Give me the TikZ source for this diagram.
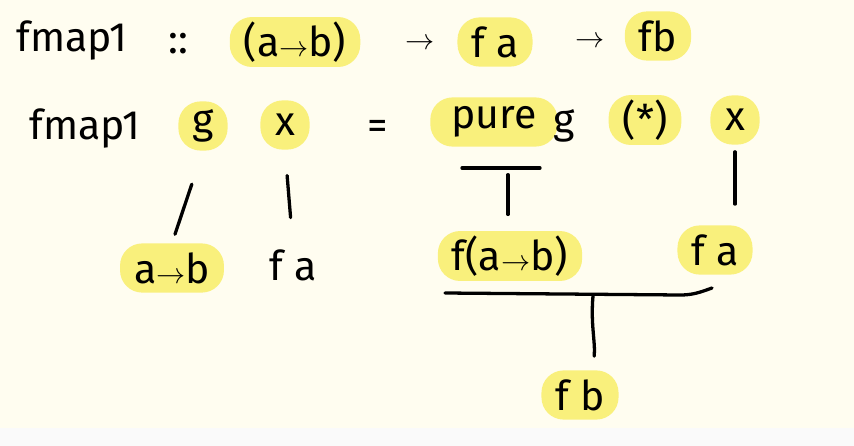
\documentclass[tikz,border=0pt]{standalone}
\usepackage{fontspec}
\setmainfont{Fira Sans}
\usepackage{tikz}
\usetikzlibrary{positioning}
\definecolor{paper}{HTML}{FFFDF0}
\definecolor{marker}{HTML}{F9F07C}
\tikzset{
  txt/.style={font=\fontsize{35}{42}\selectfont, inner sep=2pt},
  hl/.style={txt, fill=marker, rounded corners=19pt, inner xsep=12pt, inner ysep=4pt,
    minimum height=42pt, minimum width=42pt},
  pen/.style={line width=2.8pt, line cap=round}
}
\begin{document}
\begin{tikzpicture}[x=0.03cm, y=-0.03cm]
\useasboundingbox[fill=paper] (0,0) rectangle (854,446);
\fill[black!2] (0,428) rectangle (854,446);
% type signature
\node[txt] (signame) at (72,40) {fmap1};
\node[txt] (sigcolon) at (178,44) {::};
\node[hl] (sigfun) at (295,42) {(a$\rightarrow$b)};
\node[txt] (sigarrA) at (420,44) {$\rightarrow$};
\node[hl] (sigfa) at (495,42) {f a};
\node[txt] (sigarrB) at (590,42) {$\rightarrow$};
\node[hl] (sigfb) at (658,36) {fb};
% definition
\node[txt] (defname) at (85,128) {fmap1};
\node[hl, inner xsep=4pt] (argg) at (203,126) {g};
\node[hl, inner xsep=4pt] (argx) at (285,125) {x};
\node[txt] (defeq) at (378,130) {=};
\node[hl, inner xsep=18pt] (pure) at (494,122) {pure};
\node[txt] (pureg) at (564,126) {g};
\node[hl] (ap) at (645,120) {(*)};
\node[hl, inner xsep=6pt] (rhsx) at (735,120) {x};
% types of the pieces
\node[hl] (tyg) at (172,268) {a$\rightarrow$b};
\node[txt] (tyx) at (293,265) {f a};
\node[hl] (typure) at (510,256) {f(a$\rightarrow$b)};
\node[hl] (tyrhsx) at (715,250) {f a};
\node[hl] (tyres) at (580,395) {f b};
\coordinate (ulL) at (462,168);
\coordinate (ulR) at (540,168);
\coordinate (ulM) at (508,170);
\coordinate (brL) at (445,293);
\coordinate (brR) at (712,288);
\coordinate (brM) at (593,296);
% connectors
\draw[pen, shorten <=30pt, shorten >=8pt] (argg.south) -- (tyg.north);
\draw[pen, shorten <=22pt, shorten >=25pt] (argx.south) -- (tyx.north);
\draw[pen] (ulL) -- (ulR);
\draw[pen, shorten <=4pt, shorten >=14pt] (ulM) -- (ulM |- typure.north);
\draw[pen, shorten <=6pt, shorten >=18pt] (rhsx.south) -- (rhsx.south |- tyrhsx.north);
\draw[pen] (brL) -- (680,295) to[out=0, in=200] (brR);
\draw[pen, shorten >=12pt] (brM) to[out=-95, in=85] (brM |- tyres.north);
\end{tikzpicture}
\end{document}
